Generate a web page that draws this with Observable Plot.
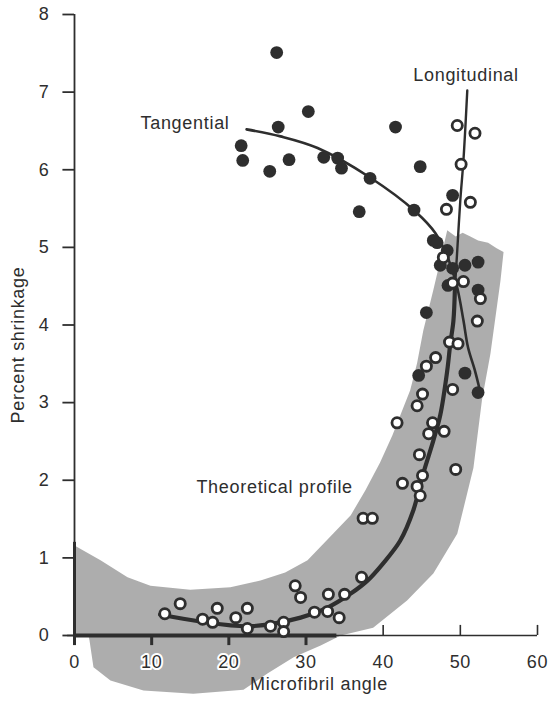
<!DOCTYPE html>
<html><head><meta charset="utf-8">
<script src="https://cdn.jsdelivr.net/npm/d3@7"></script>
<script src="https://cdn.jsdelivr.net/npm/@observablehq/plot@0.6"></script>
<style>
body{margin:0;background:#fff;}
#chart svg{display:block;}
#chart text{letter-spacing:0.7px;}
</style></head><body><div id="chart"></div>
<script>
// Tangential shrinkage (filled circles)
const tangentialAngle  = [26.2,21.6,21.8,25.3,26.4,27.8,30.3,32.3,34.1,34.6,38.3,36.9,41.6,44.8,44.0,46.5,47.0,48.3,47.4,49.0,50.6,52.3,48.4,52.3,49.0,45.6,44.6,50.6,52.3];
const tangentialShrink = [7.51,6.31,6.12,5.98,6.55,6.13,6.75,6.16,6.15,6.02,5.89,5.46,6.55,6.04,5.48,5.09,5.06,4.96,4.77,4.73,4.77,4.81,4.51,4.45,5.67,4.16,3.35,3.38,3.13];
// Longitudinal shrinkage (open circles)
const longitudinalAngle  = [47.8,49.0,50.4,52.6,52.2,48.6,49.7,46.8,45.6,49.0,45.1,44.4,41.8,46.4,45.9,47.9,44.7,49.4,45.1,42.5,44.4,44.8,37.4,38.6,37.2,35.0,32.9,34.3,32.8,31.1,28.6,29.3,27.1,27.1,25.4,22.4,22.4,20.9,18.5,17.9,16.6,13.7,11.7,49.6,51.9,50.1,48.2,51.3];
const longitudinalShrink = [4.87,4.54,4.56,4.34,4.05,3.78,3.76,3.58,3.47,3.17,3.11,2.96,2.74,2.74,2.60,2.63,2.33,2.14,2.06,1.96,1.92,1.80,1.51,1.51,0.75,0.53,0.53,0.23,0.31,0.30,0.64,0.49,0.17,0.05,0.12,0.35,0.09,0.23,0.35,0.17,0.21,0.41,0.28,6.57,6.47,6.07,5.49,5.58];
// Fitted curves
const tangentialCurveAngle  = [22.3,26.7,31.5,38.3,44.2,46.8,48.4,49.6,50.4,51.0,51.9,52.6];
const tangentialCurveShrink = [6.52,6.43,6.28,5.90,5.46,5.18,4.86,4.48,4.06,3.71,3.41,3.13];
const longitudinalCurveAngle  = [11.1,16.3,22.8,29.3,32.8,35.8,38.0,40.0,42.2,43.9,45.2,46.5,47.4,48.3,48.7,49.1,49.3,49.6,50.0,50.4,50.9];
const longitudinalCurveShrink = [0.27,0.18,0.12,0.23,0.36,0.54,0.71,0.93,1.22,1.61,2.09,2.51,2.84,3.41,3.76,4.05,4.48,4.96,5.61,6.12,7.02];
// Theoretical profile band (outline, clockwise)
const profileAngle  = [0,3.37,6.87,9.84,15.0,20.2,24.1,27.3,30.2,33.5,35.8,37.7,39.6,41.2,43.5,44.4,45.2,46.5,47.4,48.3,49.4,50.3,51.3,52.3,53.6,54.7,55.6,55.2,54.8,53.9,52.8,51.7,49.6,46.5,43.1,38.7,34.5,31.9,28.4,25.0,21.9,15.4,8.94,4.66,2.46,1.94,1.81,0];
const profileShrink = [1.16,0.97,0.75,0.64,0.59,0.62,0.71,0.81,0.97,1.31,1.55,1.87,2.23,2.58,3.16,3.51,3.93,4.45,4.83,5.22,5.14,5.19,5.14,5.09,5.06,4.99,4.94,4.57,4.28,3.63,3.03,2.16,1.31,0.80,0.45,0.10,0,-0.13,-0.28,-0.49,-0.70,-0.75,-0.71,-0.58,-0.41,-0.06,0,0];
// Axes
const xTicks = [0,10,20,30,40,50,60];
const xTicksDown = [0,10,20,30];
const xTicksUp = [40,50,60];
const yTicks = [0,1,2,3,4,5,6,7,8];
const xLabel = "Microfibril angle";
const yLabel = "Percent shrinkage";
const labelText  = ["Tangential","Longitudinal","Theoretical profile"];
const labelAngle = [8.55,43.9,15.8];
const labelShrink= [6.60,7.22,1.91];

const zip = (a,b) => a.map((x,i) => ({x, y: b[i]}));
const tangential = zip(tangentialAngle, tangentialShrink);
const longitudinal = zip(longitudinalAngle, longitudinalShrink);
const tCurve = zip(tangentialCurveAngle, tangentialCurveShrink);
const lCurve = zip(longitudinalCurveAngle, longitudinalCurveShrink);
const band = zip(profileAngle, profileShrink);
const labels = labelText.map((t,i) => ({t, x: labelAngle[i], y: labelShrink[i]}));

const ink = "#2e2e2e";
const font = "Liberation Sans, Arial, Helvetica, sans-serif";

const svg = Plot.plot({
  width: 548, height: 701,
  marginLeft: 74, marginRight: 11, marginTop: 14, marginBottom: 66,
  x: {domain: [0, 60], axis: null},
  y: {domain: [0, 8], axis: null},
  style: {fontFamily: font, background: "white", color: ink},
  marks: [
    Plot.line(band, {x: "x", y: "y", fill: "url(#stipple)", stroke: "none"}),
    // axes
    Plot.ruleY([0], {x1: -0.9, x2: 60, stroke: ink, strokeWidth: 1.6}),
    Plot.ruleY([0], {x1: 0, x2: 34, stroke: ink, strokeWidth: 4}),
    Plot.ruleX([0], {y1: -0.08, y2: 8, stroke: ink, strokeWidth: 1.8}),
    Plot.ruleX([0], {y1: -0.1, y2: 1.2, stroke: ink, strokeWidth: 3}),
    Plot.ruleY(yTicks, {x1: -1.5, x2: 0, y: d => d, stroke: ink, strokeWidth: 1.8}),
    Plot.ruleX(xTicksDown, {x: d => d, y1: -0.13, y2: 0, stroke: ink, strokeWidth: 3}),
    Plot.ruleX(xTicksUp, {x: d => d, y1: 0, y2: 0.13, stroke: ink, strokeWidth: 1.6}),
    Plot.text(yTicks, {x: 0, y: d => d, text: d => String(d), dx: -25, textAnchor: "end", fontSize: 18, fill: ink}),
    Plot.text(xTicks, {x: d => d, y: 0, text: d => String(d), dy: 27, fontSize: 18, fill: ink, stroke: d => d === 10 || d === 20 ? "white" : "none", strokeWidth: 4}),
    Plot.text([xLabel], {frameAnchor: "bottom", text: d => d, dx: 13, dy: 54, fontSize: 18, fill: ink}),
    Plot.text([yLabel], {frameAnchor: "left", textAnchor: "middle", text: d => d, rotate: -90, dx: -56, dy: 20, fontSize: 18, fill: ink}),
    // curves
    Plot.line(tCurve, {x: "x", y: "y", curve: "catmull-rom", stroke: ink, strokeWidth: 2.6}),
    Plot.line(lCurve, {filter: d => d.y <= 4.5, x: "x", y: "y", curve: "catmull-rom", stroke: ink, strokeWidth: 4.2}),
    Plot.line(lCurve, {filter: d => d.y >= 4.4, x: "x", y: "y", curve: "catmull-rom", stroke: ink, strokeWidth: 2.4}),
    // points
    Plot.dot(tangential, {x: "x", y: "y", r: 6.4, fill: ink, stroke: "none"}),
    Plot.dot(longitudinal, {x: "x", y: "y", r: 5.1, fill: "white", stroke: ink, strokeWidth: 2.8}),
    // annotations
    Plot.text(labels, {x: "x", y: "y", text: "t", textAnchor: "start", fontSize: 18, fill: ink})
  ]
});

const defs = d3.select(svg).insert("defs", ":first-child");
const pat = defs.append("pattern").attr("id", "stipple").attr("width", 2).attr("height", 2).attr("patternUnits", "userSpaceOnUse");
pat.append("rect").attr("width", 2).attr("height", 2).attr("fill", "#dadada");
pat.append("rect").attr("width", 1).attr("height", 1).attr("fill", "#808080");
pat.append("rect").attr("x", 1).attr("y", 1).attr("width", 1).attr("height", 1).attr("fill", "#808080");

document.getElementById("chart").appendChild(svg);
</script>
</body></html>
